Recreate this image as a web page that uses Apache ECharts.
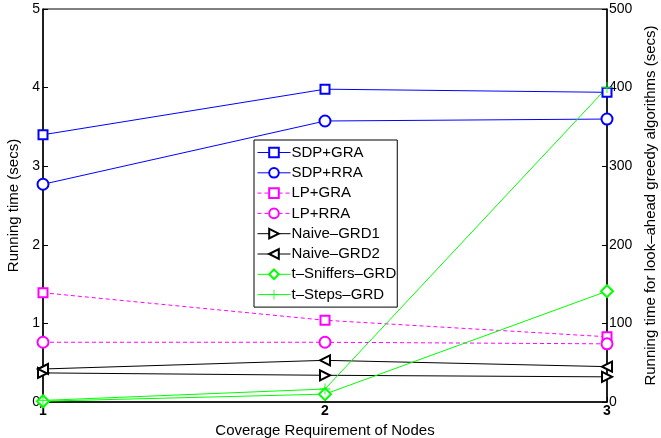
<!DOCTYPE html>
<html>
<head>
<meta charset="utf-8">
<script src="https://cdn.jsdelivr.net/npm/echarts@6/dist/echarts.min.js"></script>
<style>html,body{margin:0;padding:0;background:#fff}#c{width:661px;height:438px}</style>
</head>
<body>
<div id="c"></div>
<script>
const xValues = [1, 2, 3];
const sdpGra = [3.40, 3.98, 3.94];
const sdpRra = [2.77, 3.575, 3.60];
const lpGra = [1.39, 1.04, 0.83];
const lpRra = [0.76, 0.76, 0.74];
const naiveGrd1 = [37, 34, 32];
const naiveGrd2 = [42, 53, 45];
const tSniffers = [1, 10, 141];
const tSteps = [2, 16.5, 400];

const FONT = '"Liberation Sans", Arial, Helvetica, sans-serif';
const plus = 'path://M4.6,0H5.4V4.6H10V5.4H5.4V10H4.6V5.4H0V4.6H4.6Z';

function pts(arr) { return arr.map((v, i) => [xValues[i], v]); }
function mk(name, data, color, symbol, opts) {
  opts = opts || {};
  return {
    name: name, type: 'line', data: pts(data),
    yAxisIndex: opts.right ? 1 : 0,
    symbol: symbol, symbolSize: opts.size || 9,
    symbolRotate: opts.rotate || 0,
    showAllSymbol: true,
    lineStyle: { color: color, width: 1, type: opts.dashed ? [4, 3] : 'solid' },
    itemStyle: { color: color, borderWidth: 1 },
    emphasis: { disabled: true },
    animation: false,
    z: opts.z || 2
  };
}

const chart = echarts.init(document.getElementById('c'));
chart.setOption({
  animation: false,
  textStyle: { fontFamily: FONT },
  grid: { left: 43, right: 54, top: 9, bottom: 36, show: true, borderColor: '#000', borderWidth: 1, outerBoundsMode: 'none', containLabel: false },
  legend: {
    orient: 'vertical', left: 254, top: 140,
    backgroundColor: '#fff', borderColor: '#000', borderWidth: 1,
    padding: [5, 1, 5, 3], itemGap: 5.3, itemWidth: 33, itemHeight: 12,
    lineStyle: { width: 1 },
    itemStyle: { borderWidth: 1 },
    textStyle: { fontFamily: FONT, fontSize: 15, color: '#000', padding: [0, 0, 0, -4] },
    data: ['SDP+GRA', 'SDP+RRA', 'LP+GRA', 'LP+RRA', 'Naive–GRD1', 'Naive–GRD2', 't–Sniffers–GRD', 't–Steps–GRD']
  },
  xAxis: {
    type: 'value', min: 1, max: 3, interval: 1,
    name: 'Coverage Requirement of Nodes', nameLocation: 'middle', nameGap: 18,
    nameTextStyle: { fontFamily: FONT, fontSize: 15, color: '#000' },
    axisLine: { lineStyle: { color: '#000', width: 1.5 } },
    axisTick: { inside: true, length: 5, lineStyle: { color: '#000' } },
    axisLabel: { color: '#000', fontSize: 14, fontWeight: 'bold', margin: 2, fontFamily: FONT },
    splitLine: { show: false }
  },
  yAxis: [{
    type: 'value', min: 0, max: 5, interval: 1, position: 'left',
    name: 'Running time (secs)', nameLocation: 'middle', nameGap: 15, nameRotate: 90,
    nameTextStyle: { fontFamily: FONT, fontSize: 15, color: '#000' },
    axisLine: { show: true, lineStyle: { color: '#000', width: 1.5 } },
    axisTick: { show: true, inside: true, length: 5, lineStyle: { color: '#000' } },
    axisLabel: { color: '#000', fontSize: 14, margin: 3, fontFamily: FONT },
    splitLine: { show: false }
  }, {
    type: 'value', min: 0, max: 500, interval: 100, position: 'right',
    name: 'Running time for look–ahead greedy algorithms (secs)', nameLocation: 'middle', nameGap: 32, nameRotate: 90,
    nameTextStyle: { fontFamily: FONT, fontSize: 15, color: '#000' },
    axisLine: { show: true, lineStyle: { color: '#000', width: 1.5 } },
    axisTick: { show: true, inside: true, length: 5, lineStyle: { color: '#000' } },
    axisLabel: { color: '#000', fontSize: 14, margin: 2, fontFamily: FONT },
    splitLine: { show: false }
  }],
  series: [
    mk('SDP+GRA', sdpGra, '#0000ff', 'emptyRect', { size: 9 }),
    mk('SDP+RRA', sdpRra, '#0000ff', 'emptyCircle', { size: 11 }),
    mk('LP+GRA', lpGra, '#ff00ff', 'emptyRect', { dashed: true, size: 9 }),
    mk('LP+RRA', lpRra, '#ff00ff', 'emptyCircle', { dashed: true, size: 11 }),
    mk('Naive–GRD1', naiveGrd1, '#000000', 'emptyTriangle', { right: true, rotate: -90, size: 10 }),
    mk('Naive–GRD2', naiveGrd2, '#000000', 'emptyTriangle', { right: true, rotate: 90, size: 10 }),
    mk('t–Sniffers–GRD', tSniffers, '#00ff00', 'emptyDiamond', { right: true, size: 12 }),
    mk('t–Steps–GRD', tSteps, '#00ff00', plus, { right: true, size: 11 })
  ]
});
</script>
</body>
</html>
